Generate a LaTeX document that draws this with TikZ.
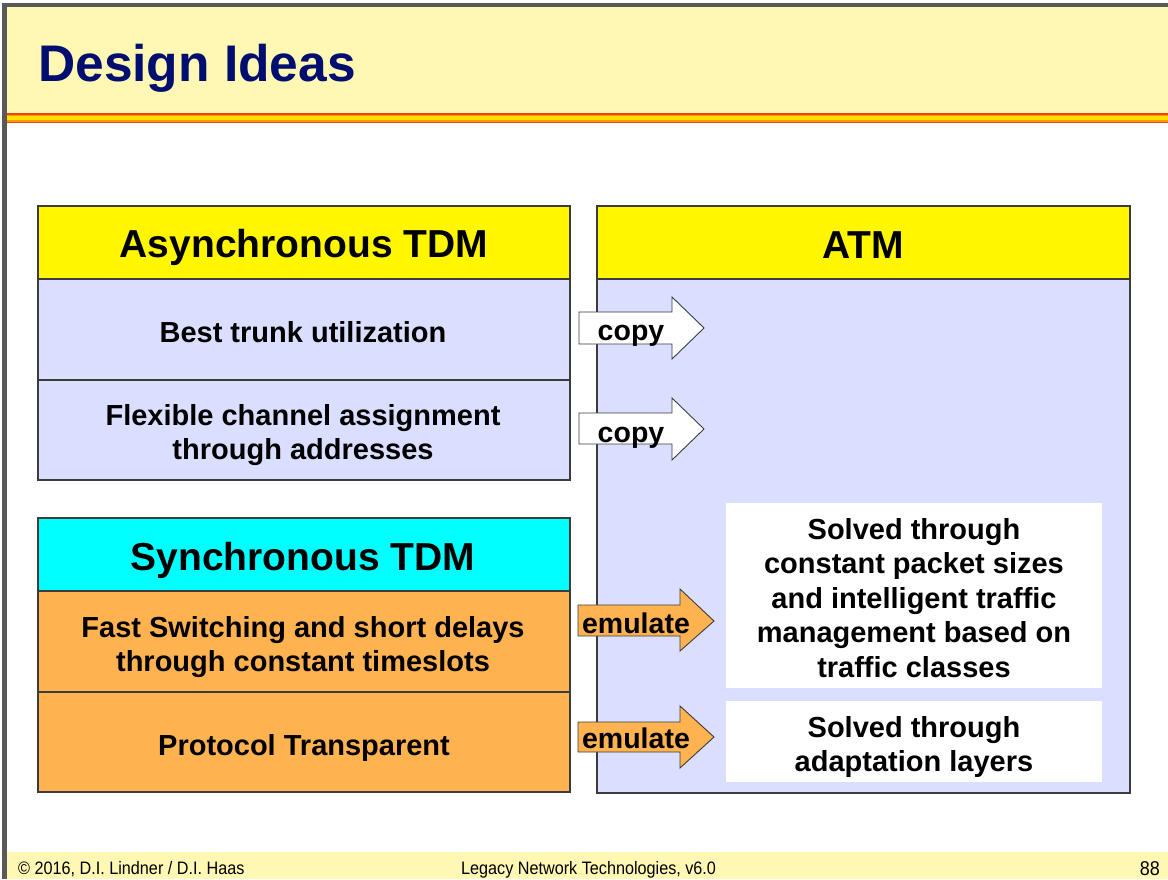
\documentclass[tikz,border=0pt]{standalone}
\usepackage{fontspec}
\setmainfont{Liberation Sans}
\newfontfamily\narrowfont[FakeStretch=0.9]{Liberation Sans}
\definecolor{bandyellow}{RGB}{255,248,180}
\definecolor{titleblue}{RGB}{0,14,112}
\definecolor{hdryellow}{RGB}{255,246,0}
\definecolor{rowblue}{RGB}{218,223,255}
\definecolor{roworange}{RGB}{255,178,80}
\definecolor{hdrcyan}{RGB}{0,255,255}
\definecolor{edgegray}{RGB}{60,60,60}
\definecolor{stripered}{RGB}{232,70,20}
\definecolor{stripeorange}{RGB}{255,150,0}
\definecolor{stripeyellow}{RGB}{255,222,0}
\begin{document}
\begin{tikzpicture}[x=1pt,y=-1pt,
  cell/.style={draw=edgegray,line width=1.1pt},
  bigtxt/.style={font=\fontsize{39}{42}\selectfont\bfseries,align=center},
  rowtxt/.style={font=\fontsize{29}{34.5}\selectfont\bfseries,align=center},
  arrtxt/.style={font=\fontsize{28.5}{34}\selectfont\bfseries,anchor=base,inner sep=0pt},
  blockarrow/.style={draw=edgegray,line width=0.9pt,line join=miter},
  foot/.style={font=\narrowfont\fontsize{18}{20}\selectfont,anchor=base west,inner sep=0pt}]
\useasboundingbox (0,0) rectangle (1168,879);
\fill[white] (0,0) rectangle (1168,879);
% slide frame
\fill[gray!70!black] (2,3) rectangle (1168,7);
\fill[gray!70!black] (2,3) rectangle (7,879);
\fill[bandyellow] (7,7) rectangle (1168,113);
\fill[stripered] (7,113) rectangle (1168,123);
\fill[stripeorange] (7,114.5) rectangle (1168,121.5);
\fill[stripeyellow] (7,116) rectangle (1168,119.5);
\fill[bandyellow] (7,852) rectangle (1168,879);
\node[anchor=base west,inner sep=0pt,text=titleblue,font=\fontsize{51.5}{56}\selectfont\bfseries] (title) at (38,81) {Design Ideas};
% left panel
\filldraw[cell,fill=hdryellow] (38,206) rectangle (570,279);
\filldraw[cell,fill=rowblue] (38,279) rectangle (570,380);
\filldraw[cell,fill=rowblue] (38,380) rectangle (570,480);
\filldraw[cell,fill=hdrcyan] (38,518) rectangle (570,591);
\filldraw[cell,fill=roworange] (38,591) rectangle (570,692);
\filldraw[cell,fill=roworange] (38,692) rectangle (570,792);
\node[bigtxt] (async) at (304,247) {Asynchronous TDM};
\node[rowtxt] (best) at (303,332) {Best trunk utilization};
\node[rowtxt] (flex) at (303,435) {Flexible channel assignment\\through addresses};
\node[bigtxt] (sync) at (303,560) {Synchronous TDM};
\node[rowtxt] (fast) at (303,647) {Fast Switching and short delays\\through constant timeslots};
\node[rowtxt] (proto) at (304,748) {Protocol Transparent};
% right panel
\filldraw[cell,fill=hdryellow] (597,206) rectangle (1130,279);
\filldraw[cell,fill=rowblue] (597,279) rectangle (1130,793);
\node[bigtxt] (atm) at (863,245) {ATM};
\fill[white] (726,503) rectangle (1102,688);
\fill[white] (726,701) rectangle (1102,782);
\node[rowtxt] (solved1) at (914,598) {Solved through\\constant packet sizes\\and intelligent traffic\\management based on\\traffic classes};
\node[rowtxt] (solved2) at (914,747) {Solved through\\adaptation layers};
% block arrows
\filldraw[blockarrow,fill=white] (579,312) -- (672,312) -- (672,297) -- (704,328) -- (672,359) -- (672,344) -- (579,344) -- cycle;
\node[arrtxt] (copy1) at (631,340) {copy};
\filldraw[blockarrow,fill=white] (579,413) -- (672,413) -- (672,398) -- (704,429) -- (672,460) -- (672,444) -- (579,444) -- cycle;
\node[arrtxt] (copy2) at (631,442) {copy};
\filldraw[blockarrow,fill=roworange] (578,605) -- (680,605) -- (680,589) -- (714,621) -- (680,651) -- (680,636) -- (578,636) -- cycle;
\node[arrtxt] (emu1) at (636,633) {emulate};
\filldraw[blockarrow,fill=roworange] (578,722) -- (680,722) -- (680,706) -- (714,737) -- (680,768) -- (680,752) -- (578,752) -- cycle;
\node[arrtxt] (emu2) at (636,748) {emulate};
% footer
\node[foot] (copyr) at (18,874) {© 2016, D.I. Lindner / D.I. Haas};
\node[foot] (course) at (461,874) {Legacy Network Technologies, v6.0};
\node[foot,anchor=base east,font=\narrowfont\fontsize{20}{22}\selectfont] (page) at (1160,875) {88};
\end{tikzpicture}
\end{document}
